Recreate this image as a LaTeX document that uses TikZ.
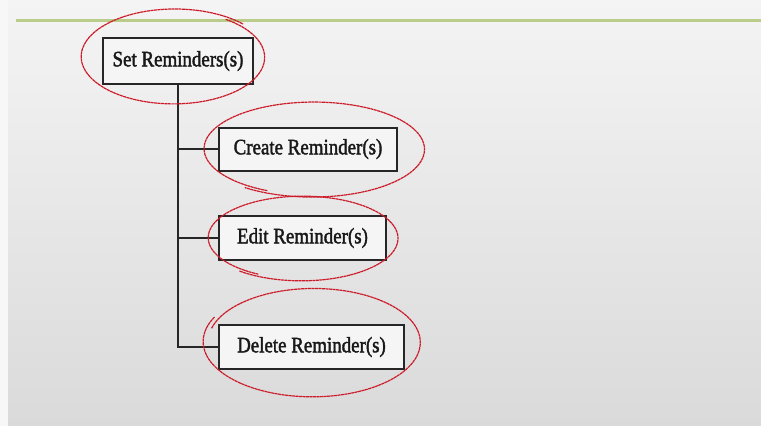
\documentclass[tikz,border=0pt]{standalone}
\usepackage{fontspec}
\setmainfont[FakeBold=2]{Liberation Serif}
\definecolor{bgtop}{HTML}{F4F4F4}
\definecolor{bgbot}{HTML}{DADADA}
\definecolor{rule}{HTML}{B9CC8A}
\definecolor{inkred}{HTML}{CC1A28}
\tikzset{
  box/.style={draw=black!85, line width=2pt, fill=white!96!black, inner sep=0pt,
    font=\fontsize{22}{24}\selectfont, text=black!90},
  link/.style={draw=black!85, line width=2pt},
  redmark/.style={draw=inkred, line width=1.2pt, dash pattern=on 3pt off 0.5pt}
}
\newcommand\cond[1]{\scalebox{0.86}[1]{#1}}
\newcommand\handloop[5]{%
  \draw[redmark, domain=#5:#5+372, samples=90, smooth, variable=\t]
    plot ({#1+#3*(1+0.05*(\t-#5)/372)*cos(\t)}, {#2+#4*(1+0.05*(\t-#5)/372)*sin(\t)});}
\begin{document}
\begin{tikzpicture}[x=1pt,y=-1pt]
\useasboundingbox (0,0) rectangle (761,426);
\fill[white!97!black] (0,0) rectangle (761,426);
\shade[top color=bgtop, bottom color=bgbot] (8,0) rectangle (761,426);
\draw[rule, line width=3pt] (16,20) -- (761,20);

\node[box, minimum width=150, minimum height=46] (set) at (178,61) {\cond{Set Reminders(s)}};
\node[box, minimum width=178, minimum height=43] (create) at (308,149) {\cond{Create Reminder(s)}};
\node[box, minimum width=167, minimum height=44] (edit) at (302.5,238) {\cond{Edit Reminder(s)}};
\node[box, minimum width=185, minimum height=44] (delete) at (311.5,347) {\cond{Delete Reminder(s)}};

\draw[link] (set.south) |- (delete.west);
\draw[link] (set.south) |- (create.west);
\draw[link] (set.south) |- (edit.west);

\handloop{174}{57}{90}{46}{-55}
\handloop{313}{149}{108}{46}{115}
\handloop{302}{238}{93}{41}{118}
\handloop{313}{342}{105}{53}{195}
\end{tikzpicture}
\end{document}
